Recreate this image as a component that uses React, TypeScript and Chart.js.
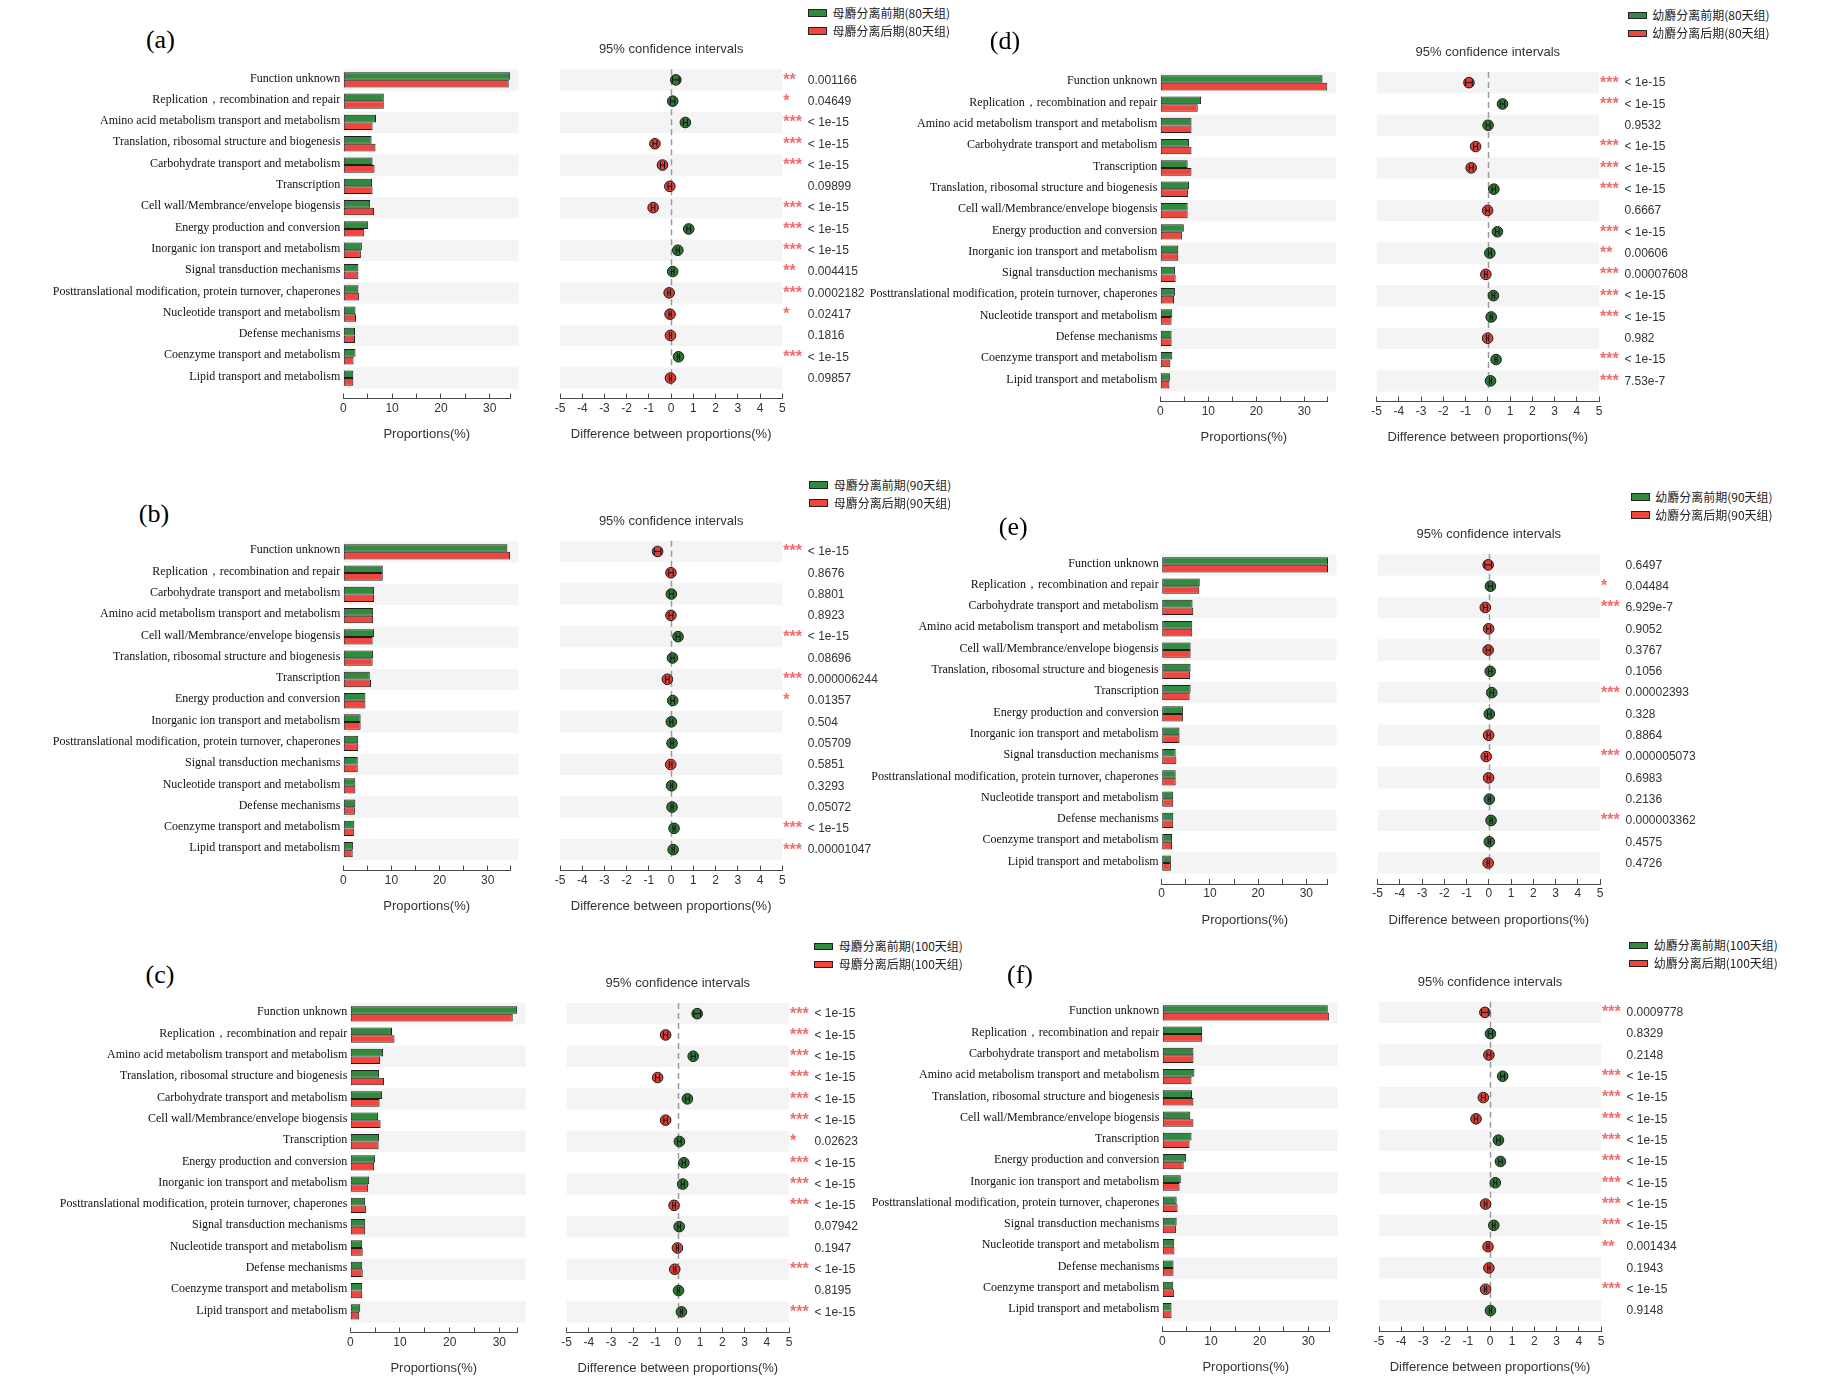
import React, { useEffect, useRef } from 'react';
import { Chart, registerables } from 'chart.js';

Chart.register(...registerables);

// ---------- categories ----------
const FU = 'Function unknown';
const REP = 'Replication，recombination and repair';
const AA = 'Amino acid metabolism transport and metabolism';
const TR = 'Translation, ribosomal structure and biogenesis';
const CH = 'Carbohydrate transport and metabolism';
const TS = 'Transcription';
const CW = 'Cell wall/Membrance/envelope biogensis';
const EN = 'Energy production and conversion';
const IN = 'Inorganic ion transport and metabolism';
const SI = 'Signal transduction mechanisms';
const PT = 'Posttranslational modification, protein turnover, chaperones';
const NU = 'Nucleotide transport and metabolism';
const DE = 'Defense mechanisms';
const CO = 'Coenzyme transport and metabolism';
const LI = 'Lipid transport and metabolism';

// ---------- tick labels ----------
const PROP_TICKS = [0, 5, 10, 15, 20, 25, 30];
const DIFF_TICKS = [-5, -4, -3, -2, -1, 0, 1, 2, 3, 4, 5];
const CI_TITLE = '95% confidence intervals';
const PROP_TITLE = 'Proportions(%)';
const DIFF_TITLE = 'Difference between proportions(%)';

// half widths of the 95% CI (estimated)
const CI_HALF = [0.15, 0.1, 0.09, 0.09, 0.09, 0.08, 0.08, 0.08, 0.07, 0.06, 0.06, 0.05, 0.05, 0.05, 0.05];

// ---------- panel (a) ----------
const CATS_A = [FU, REP, AA, TR, CH, TS, CW, EN, IN, SI, PT, NU, DE, CO, LI];
const GREEN_A = [34.2, 8.3, 6.7, 5.8, 6.0, 5.9, 5.5, 5.1, 3.8, 3.1, 3.1, 2.5, 2.4, 2.5, 2.05];
const RED_A = [33.9, 8.3, 6.0, 6.6, 6.4, 6.0, 6.3, 4.3, 3.6, 3.1, 3.2, 2.6, 2.4, 2.1, 2.05];
const DIFF_A = [0.21, 0.07, 0.64, -0.73, -0.39, -0.06, -0.81, 0.79, 0.3, 0.07, -0.09, -0.05, -0.03, 0.33, -0.03];
const P_A = ['0.001166', '0.04649', '< 1e-15', '< 1e-15', '< 1e-15', '0.09899', '< 1e-15', '< 1e-15', '< 1e-15', '0.004415', '0.0002182', '0.02417', '0.1816', '< 1e-15', '0.09857'];
const LEG_A = ['母麝分离前期(80天组)', '母麝分离后期(80天组)'];

// ---------- panel (b) ----------
const CATS_B = [FU, REP, CH, AA, CW, TR, TS, EN, IN, PT, SI, NU, DE, CO, LI];
const GREEN_B = [34.1, 8.2, 6.4, 6.2, 6.4, 6.2, 5.5, 4.6, 3.6, 3.1, 3.0, 2.5, 2.5, 2.3, 2.0];
const RED_B = [34.65, 8.2, 6.4, 6.2, 6.1, 6.1, 5.75, 4.6, 3.6, 3.1, 3.0, 2.5, 2.4, 2.2, 1.95];
const DIFF_B = [-0.61, -0.01, 0.01, -0.01, 0.31, 0.06, -0.17, 0.07, 0.01, 0.04, -0.02, 0.02, 0.04, 0.13, 0.09];
const P_B = ['< 1e-15', '0.8676', '0.8801', '0.8923', '< 1e-15', '0.08696', '0.000006244', '0.01357', '0.504', '0.05709', '0.5851', '0.3293', '0.05072', '< 1e-15', '0.00001047'];
const LEG_B = ['母麝分离前期(90天组)', '母麝分离后期(90天组)'];

// ---------- panel (c) ----------
const CATS_C = [FU, REP, AA, TR, CH, CW, TS, EN, IN, PT, SI, NU, DE, CO, LI];
const GREEN_C = [33.6, 8.4, 6.6, 5.8, 6.4, 5.6, 5.8, 5.0, 3.8, 3.0, 3.0, 2.4, 2.4, 2.4, 2.0];
const RED_C = [32.7, 8.9, 6.0, 6.8, 5.9, 6.1, 5.7, 4.8, 3.6, 3.2, 3.0, 2.5, 2.5, 2.4, 1.8];
const DIFF_C = [0.87, -0.55, 0.69, -0.91, 0.43, -0.55, 0.07, 0.27, 0.22, -0.17, 0.06, -0.02, -0.14, 0.03, 0.16];
const P_C = ['< 1e-15', '< 1e-15', '< 1e-15', '< 1e-15', '< 1e-15', '< 1e-15', '0.02623', '< 1e-15', '< 1e-15', '< 1e-15', '0.07942', '0.1947', '< 1e-15', '0.8195', '< 1e-15'];
const LEG_C = ['母麝分离前期(100天组)', '母麝分离后期(100天组)'];

// ---------- panel (d) ----------
const CATS_D = [FU, REP, AA, CH, TS, TR, CW, EN, IN, SI, PT, NU, DE, CO, LI];
const GREEN_D = [33.8, 8.5, 6.5, 6.0, 5.7, 6.0, 5.7, 4.9, 3.75, 3.05, 3.05, 2.5, 2.35, 2.5, 2.0];
const RED_D = [34.8, 7.8, 6.5, 6.5, 6.5, 5.8, 5.7, 4.5, 3.75, 3.2, 2.85, 2.35, 2.35, 2.1, 1.9];
const DIFF_D = [-0.85, 0.66, 0.01, -0.55, -0.75, 0.27, -0.01, 0.43, 0.09, -0.09, 0.25, 0.15, -0.01, 0.37, 0.12];
const P_D = ['< 1e-15', '< 1e-15', '0.9532', '< 1e-15', '< 1e-15', '< 1e-15', '0.6667', '< 1e-15', '0.00606', '0.00007608', '< 1e-15', '< 1e-15', '0.982', '< 1e-15', '7.53e-7'];
const LEG_D = ['幼麝分离前期(80天组)', '幼麝分离后期(80天组)'];

// ---------- panel (e) ----------
const CATS_E = [FU, REP, CH, AA, CW, TR, TS, EN, IN, SI, PT, NU, DE, CO, LI];
const GREEN_E = [34.5, 7.9, 6.4, 6.35, 6.0, 6.0, 6.0, 4.4, 3.7, 2.9, 2.9, 2.4, 2.4, 2.15, 1.9];
const RED_E = [34.5, 7.8, 6.55, 6.35, 6.0, 5.9, 5.8, 4.4, 3.7, 3.05, 2.9, 2.4, 2.4, 2.15, 1.9];
const DIFF_E = [-0.03, 0.07, -0.16, -0.01, -0.03, 0.06, 0.13, 0.02, -0.01, -0.12, -0.01, 0.02, 0.1, 0.02, -0.03];
const P_E = ['0.6497', '0.04484', '6.929e-7', '0.9052', '0.3767', '0.1056', '0.00002393', '0.328', '0.8864', '0.000005073', '0.6983', '0.2136', '0.000003362', '0.4575', '0.4726'];
const LEG_E = ['幼麝分离前期(90天组)', '幼麝分离后期(90天组)'];

// ---------- panel (f) ----------
const CATS_F = [FU, REP, CH, AA, TR, CW, TS, EN, IN, PT, SI, NU, DE, CO, LI];
const GREEN_F = [34.0, 8.2, 6.4, 6.6, 6.1, 5.75, 6.0, 4.9, 3.8, 2.95, 2.95, 2.45, 2.3, 2.25, 1.9];
const RED_F = [34.3, 8.2, 6.4, 6.0, 6.4, 6.4, 5.6, 4.4, 3.55, 3.15, 2.8, 2.5, 2.3, 2.45, 1.9];
const DIFF_F = [-0.23, 0.02, -0.05, 0.57, -0.3, -0.63, 0.38, 0.47, 0.24, -0.2, 0.17, -0.09, -0.05, -0.2, 0.02];
const P_F = ['0.0009778', '0.8329', '0.2148', '< 1e-15', '< 1e-15', '< 1e-15', '< 1e-15', '< 1e-15', '< 1e-15', '< 1e-15', '< 1e-15', '0.001434', '0.1943', '< 1e-15', '0.9148'];
const LEG_F = ['幼麝分离前期(100天组)', '幼麝分离后期(100天组)'];

// ---------- styles ----------
const GREEN = '#318a3e';
const RED = '#f2453d';
const DOT_GREEN = '#2f7436';
const DOT_RED = '#db3e37';
const STRIPE = '#f4f4f4';
const AXIS = '#4a4a4a';
const STAR = '#f26d6d';
const SERIF = '"Liberation Serif", "Times New Roman", serif';
const SANS = '"Liberation Sans", Arial, sans-serif';
const CJK = '"Noto Sans CJK SC", "Liberation Serif", serif';

const ROW_H = 21.3;
const Y_AXIS_W = 330;
const X_AXIS_H = 50;

type Geo = {
  x0: number; ppu: number; m5: number; p5: number; rowTop: number; axisY: number;
  letter: [number, number]; legend: [number, number];
};
type Panel = {
  id: string; cats: string[]; green: number[]; red: number[]; diff: number[]; p: string[]; legend: string[]; geo: Geo;
};

const PANELS: Panel[] = [
  { id: 'a', cats: CATS_A, green: GREEN_A, red: RED_A, diff: DIFF_A, p: P_A, legend: LEG_A,
    geo: { x0: 343.3, ppu: 4.88, m5: 560, p5: 782.3, rowTop: 69.2, axisY: 398.5, letter: [160.4, 40], legend: [808, 9] } },
  { id: 'b', cats: CATS_B, green: GREEN_B, red: RED_B, diff: DIFF_B, p: P_B, legend: LEG_B,
    geo: { x0: 343.3, ppu: 4.813, m5: 560, p5: 782.3, rowTop: 540.8, axisY: 870.5, letter: [154, 514], legend: [809.3, 481] } },
  { id: 'c', cats: CATS_C, green: GREEN_C, red: RED_C, diff: DIFF_C, p: P_C, legend: LEG_C,
    geo: { x0: 350.3, ppu: 4.967, m5: 566.7, p5: 789, rowTop: 1003, axisY: 1332.5, letter: [160, 975], legend: [814.3, 942.7] } },
  { id: 'd', cats: CATS_D, green: GREEN_D, red: RED_D, diff: DIFF_D, p: P_D, legend: LEG_D,
    geo: { x0: 1160.3, ppu: 4.8, m5: 1376.7, p5: 1599, rowTop: 72, axisY: 401.5, letter: [1005, 41], legend: [1627.7, 11.7] } },
  { id: 'e', cats: CATS_E, green: GREEN_E, red: RED_E, diff: DIFF_E, p: P_E, legend: LEG_E,
    geo: { x0: 1161.7, ppu: 4.82, m5: 1377.7, p5: 1600, rowTop: 554.2, axisY: 884, letter: [1013.3, 526.7], legend: [1630.7, 493.3] } },
  { id: 'f', cats: CATS_F, green: GREEN_F, red: RED_F, diff: DIFF_F, p: P_F, legend: LEG_F,
    geo: { x0: 1162.3, ppu: 4.867, m5: 1379, p5: 1601, rowTop: 1001.7, axisY: 1331.5, letter: [1020, 975], legend: [1629.3, 941.7] } },
];

function starsFor(p: string): string {
  if (p.trim().startsWith('<')) return '***';
  const v = parseFloat(p);
  if (v < 0.001) return '***';
  if (v < 0.01) return '**';
  if (v < 0.05) return '*';
  return '';
}

function xAxisCommon(title: string) {
  return {
    type: 'linear' as const,
    grid: { display: true, drawOnChartArea: false, drawTicks: true, tickLength: -5, color: AXIS, lineWidth: 1 },
    border: { display: true, color: AXIS, width: 1 },
    ticks: { autoSkip: false, maxRotation: 0, minRotation: 0, padding: 7.8, color: '#333', font: { family: SANS, size: 12 } },
    title: { display: true, text: title, color: '#333', font: { family: SANS, size: 13 }, padding: { top: 0, bottom: X_AXIS_H - 36 - 7.8 } },
    afterFit: (s: any) => { s.height = X_AXIS_H; },
  };
}

function BarChart({ p }: { p: Panel }) {
  const ref = useRef<HTMLCanvasElement>(null);
  const g = p.geo;
  const axisEnd = Math.max(...p.green, ...p.red);
  const plotW = axisEnd * g.ppu;
  const left = Math.round(g.x0 - Y_AXIS_W);
  const yw = g.x0 - left;
  const top = Math.round(g.rowTop - 10);
  const padTop = g.rowTop - top;
  const plotH = g.axisY - g.rowTop;
  const width = Math.ceil(yw + plotW + 24);
  const height = Math.ceil(padTop + plotH + X_AXIS_H);
  const padRight = width - yw - plotW;
  const padBottom = height - padTop - plotH - X_AXIS_H;
  const yMax = plotH / ROW_H - 0.5;

  useEffect(() => {
    if (!ref.current) return;
    const n = p.cats.length;
    const stripes = {
      id: 'barStripes',
      beforeDatasetsDraw(chart: any) {
        const { ctx, chartArea, scales } = chart;
        const y = scales.y;
        ctx.save();
        ctx.fillStyle = STRIPE;
        for (let i = 0; i < n; i += 2) {
          const t = y.getPixelForValue(i - 0.5);
          const b = y.getPixelForValue(i + 0.5);
          ctx.fillRect(chartArea.left, t, chartArea.right - chartArea.left + 8.5, b - t);
        }
        ctx.restore();
      },
    };
    const xAxis: any = xAxisCommon(PROP_TITLE);
    xAxis.min = 0;
    xAxis.max = axisEnd;
    xAxis.afterBuildTicks = (s: any) => { s.ticks = [...PROP_TICKS, axisEnd].map((v) => ({ value: v })); };
    xAxis.ticks.callback = (v: any) => (Number(v) % 10 === 0 ? String(v) : '');
    const chart = new Chart(ref.current, {
      type: 'bar',
      data: {
        datasets: [
          { label: p.legend[0], data: p.green.map((v, i) => ({ x: v, y: i })), backgroundColor: GREEN, borderColor: '#1e1e1e', borderWidth: 1, borderSkipped: false, barPercentage: 1, categoryPercentage: 0.72 },
          { label: p.legend[1], data: p.red.map((v, i) => ({ x: v, y: i })), backgroundColor: RED, borderColor: '#1e1e1e', borderWidth: 1, borderSkipped: false, barPercentage: 1, categoryPercentage: 0.72 },
        ],
      } as any,
      options: {
        indexAxis: 'y',
        responsive: false,
        animation: false,
        events: [],
        layout: { padding: { top: padTop, right: padRight, left: 0, bottom: padBottom } },
        plugins: { legend: { display: false }, tooltip: { enabled: false } },
        scales: {
          y: {
            type: 'linear', reverse: true, min: -0.5, max: yMax, offset: false,
            afterBuildTicks: (s: any) => { s.ticks = p.cats.map((_, i) => ({ value: i })); },
            afterFit: (s: any) => { s.width = yw; },
            grid: { display: false, offset: false, drawTicks: false, tickLength: 0 },
            border: { display: false },
            ticks: { autoSkip: false, padding: 3, labelOffset: -1.5, color: '#111', font: { family: SERIF, size: 12 },
              callback: (v: any) => p.cats[Math.round(Number(v))] ?? '' },
          },
          x: xAxis,
        },
      } as any,
      plugins: [stripes],
    });
    return () => chart.destroy();
  }, []);

  return <canvas ref={ref} width={width} height={height} style={{ position: 'absolute', left, top, width, height }} />;
}

function DotChart({ p }: { p: Panel }) {
  const ref = useRef<HTMLCanvasElement>(null);
  const g = p.geo;
  const left = Math.round(g.m5 - 20);
  const padLeft = g.m5 - left;
  const plotW = g.p5 - g.m5;
  const top = Math.round(g.rowTop - 34);
  const padTop = g.rowTop - top;
  const plotH = g.axisY - g.rowTop;
  const width = Math.ceil(padLeft + plotW + 175);
  const height = Math.ceil(padTop + plotH + X_AXIS_H);
  const padRight = width - padLeft - plotW;
  const padBottom = height - padTop - plotH - X_AXIS_H;
  const yMax = plotH / ROW_H - 0.5;

  useEffect(() => {
    if (!ref.current) return;
    const n = p.cats.length;
    const deco = {
      id: 'dotDeco',
      beforeDatasetsDraw(chart: any) {
        const { ctx, chartArea, scales } = chart;
        const y = scales.y;
        const x = scales.x;
        ctx.save();
        ctx.fillStyle = STRIPE;
        for (let i = 0; i < n; i += 2) {
          const t = y.getPixelForValue(i - 0.5);
          const b = y.getPixelForValue(i + 0.5);
          ctx.fillRect(chartArea.left, t, chartArea.right - chartArea.left, b - t);
        }
        const zx = Math.round(x.getPixelForValue(0)) + 0.5;
        ctx.strokeStyle = '#9a9a9a';
        ctx.lineWidth = 1.5;
        ctx.setLineDash([6, 4]);
        ctx.beginPath();
        ctx.moveTo(zx, y.getPixelForValue(-0.5));
        ctx.lineTo(zx, y.getPixelForValue(n - 0.5));
        ctx.stroke();
        ctx.restore();
      },
      afterDatasetsDraw(chart: any) {
        const { ctx, chartArea, scales } = chart;
        const y = scales.y;
        const x = scales.x;
        ctx.save();
        ctx.strokeStyle = '#111';
        ctx.lineWidth = 1;
        for (let i = 0; i < n; i++) {
          const cy = y.getPixelForValue(i);
          const lo = x.getPixelForValue(p.diff[i] - CI_HALF[i]);
          const hi = x.getPixelForValue(p.diff[i] + CI_HALF[i]);
          ctx.beginPath();
          ctx.moveTo(lo, cy); ctx.lineTo(hi, cy);
          ctx.moveTo(lo, cy - 3.5); ctx.lineTo(lo, cy + 3.5);
          ctx.moveTo(hi, cy - 3.5); ctx.lineTo(hi, cy + 3.5);
          ctx.stroke();
        }
        ctx.textAlign = 'left';
        ctx.textBaseline = 'middle';
        for (let i = 0; i < n; i++) {
          const cy = y.getPixelForValue(i);
          const s = starsFor(p.p[i]);
          if (s) {
            ctx.fillStyle = STAR;
            ctx.font = `bold 16px ${SANS}`;
            ctx.fillText(s, chartArea.right + 1, cy + 0.5);
          }
          ctx.fillStyle = '#333';
          ctx.font = `12px ${SANS}`;
          ctx.fillText(p.p[i], chartArea.right + 25.5, cy + 0.5);
        }
        ctx.fillStyle = '#333';
        ctx.font = `13px ${SANS}`;
        ctx.textAlign = 'center';
        ctx.fillText(CI_TITLE, (chartArea.left + chartArea.right) / 2, chartArea.top - 19.5);
        ctx.restore();
      },
    };
    const xAxis: any = xAxisCommon(DIFF_TITLE);
    xAxis.min = -5;
    xAxis.max = 5;
    xAxis.afterBuildTicks = (s: any) => { s.ticks = DIFF_TICKS.map((v) => ({ value: v })); };
    xAxis.ticks.callback = (v: any) => String(v);
    const chart = new Chart(ref.current, {
      type: 'scatter',
      data: {
        datasets: [{
          data: p.diff.map((d, i) => ({ x: d, y: i })),
          pointRadius: 5.3,
          pointBackgroundColor: p.diff.map((d) => (d > 0 ? DOT_GREEN : DOT_RED)),
          pointBorderColor: '#1a1a1a',
          pointBorderWidth: 1,
          showLine: false,
        }],
      } as any,
      options: {
        responsive: false,
        animation: false,
        events: [],
        layout: { padding: { top: padTop, right: padRight, left: padLeft, bottom: padBottom } },
        plugins: { legend: { display: false }, tooltip: { enabled: false } },
        scales: {
          y: { type: 'linear', display: false, reverse: true, min: -0.5, max: yMax },
          x: xAxis,
        },
      } as any,
      plugins: [deco],
    });
    return () => chart.destroy();
  }, []);

  return <canvas ref={ref} width={width} height={height} style={{ position: 'absolute', left, top, width, height }} />;
}

function PanelView({ p }: { p: Panel }) {
  const [lx, ly] = p.geo.legend;
  return (
    <>
      <BarChart p={p} />
      <DotChart p={p} />
      <div style={{ position: 'absolute', left: p.geo.letter[0], top: p.geo.letter[1], transform: 'translate(-50%, -50%)', font: `26px ${SERIF}`, lineHeight: 1, color: '#000', whiteSpace: 'nowrap' }}>
        ({p.id})
      </div>
      {p.legend.map((t, k) => (
        <React.Fragment key={k}>
          <div style={{ position: 'absolute', left: lx, top: ly + k * 18, width: 19, height: 7.5, boxSizing: 'border-box', border: '1px solid #222', background: k === 0 ? GREEN : RED }} />
          <div style={{ position: 'absolute', left: lx + 24.5, top: ly + k * 18 + 3.5, transform: 'translateY(-50%)', font: `12px ${CJK}`, lineHeight: 1, color: '#222', whiteSpace: 'nowrap' }}>
            {t}
          </div>
        </React.Fragment>
      ))}
    </>
  );
}

export default function App() {
  return (
    <div style={{ position: 'absolute', left: 0, top: 0, width: 1843, height: 1383, overflow: 'hidden', background: '#fff' }}>
      {PANELS.map((p) => (
        <PanelView key={p.id} p={p} />
      ))}
    </div>
  );
}
